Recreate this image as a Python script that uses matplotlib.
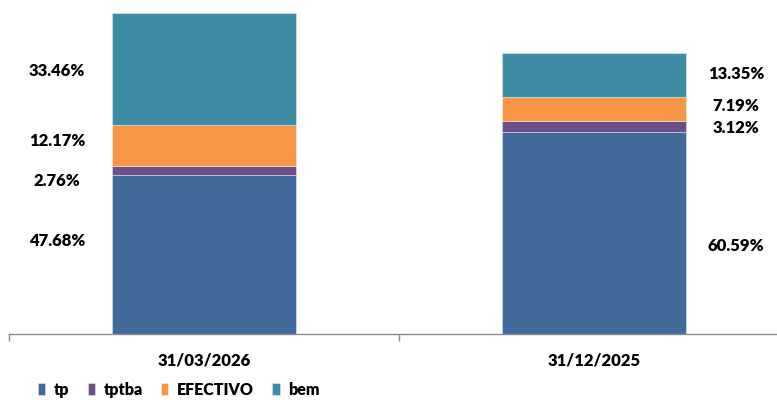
import matplotlib.pyplot as plt
import numpy as np

plt.rcParams['font.family'] = ['Lato', 'DejaVu Sans']

categories = ["31/03/2026", "31/12/2025"]
series = ["tp", "tptba", "EFECTIVO", "bem"]
tp = [47.68, 60.59]
tptba = [2.76, 3.12]
efectivo = [12.17, 7.19]
bem = [33.46, 13.35]

colors = ["#416A9B", "#6A5087", "#F79646", "#3D8CA3"]
# small manual nudges of the value labels (pixels), like the hand-placed excel labels
nudge = [[13, -13], [-11, -2], [4, 3], [-2, 1]]
lab_dx = [-0.377, 0.364]

fig = plt.figure(figsize=(7.77, 4.0), dpi=100)
ax = fig.add_axes([9 / 777, 66 / 400, 768 / 777, 334 / 400])

x = np.arange(len(categories))
width = 0.472
bottom = np.zeros(len(categories))
values = [tp, tptba, efectivo, bem]
for i, vals in enumerate(values):
    vals = np.array(vals)
    ax.bar(x, vals, width, bottom=bottom, color=colors[i], label=series[i],
           edgecolor=(1, 1, 1, 0.45), linewidth=0.6)
    for j in range(len(categories)):
        ymid = bottom[j] + vals[j] / 2
        ax.annotate("{:.2f}%".format(vals[j]), (x[j] + lab_dx[j], ymid),
                    xytext=(0, nudge[i][j] * 0.72), textcoords="offset points",
                    ha="center", va="center", fontsize=12, fontweight="heavy",
                    color="black")
    bottom = bottom + vals

ax.set_yticks([])
for s in ["top", "right", "left"]:
    ax.spines[s].set_visible(False)
ax.spines["bottom"].set_color("#8C8C8C")
ax.spines["bottom"].set_linewidth(1.0)
ax.set_xticks(x)
ax.set_xticklabels(categories, fontsize=12, fontweight="heavy")
ax.tick_params(axis="x", which="major", length=0, pad=13)
ax.set_xticks([-0.5, 0.5, 1.5], minor=True)
ax.tick_params(axis="x", which="minor", length=5, color="#8C8C8C", width=1.0)
ax.set_xlim(-0.5, -0.5 + 768 / 390)
ax.set_ylim(0, 100)

fig.legend(loc="lower left", bbox_to_anchor=(0.03, -0.03), ncol=4, frameon=False,
           handlelength=0.45, handleheight=0.75, handletextpad=0.55, columnspacing=1.15,
           prop={"weight": "heavy", "size": 11.5})

fig.savefig("out.png", dpi=100)
